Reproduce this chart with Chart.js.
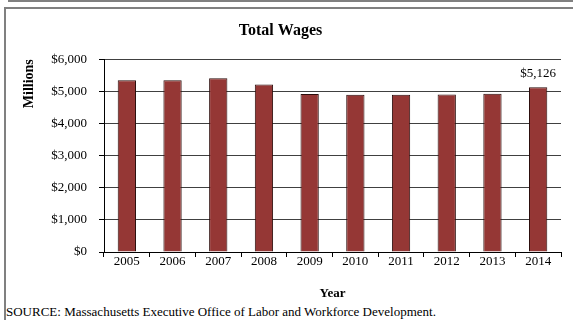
<!DOCTYPE html>
<html>
<head>
<meta charset="utf-8">
<script src="https://cdn.jsdelivr.net/npm/chart.js@4"></script>
<style>
  html, body { margin: 0; padding: 0; background: #fff; }
  body { width: 573px; height: 320px; position: relative; overflow: hidden; font-family: "Liberation Serif", "DejaVu Serif", serif; }
  #topline { position: absolute; left: 8px; top: 0; width: 565px; height: 2px; background: #808080; }
  #frame { position: absolute; left: 4px; top: 7px; width: 569px; height: 313px; border-left: 2px solid #808080; border-top: 2px solid #808080; box-sizing: border-box; }
  #wrap { position: absolute; left: 0; top: 0; width: 573px; height: 304px; }
  #source { position: absolute; left: 6px; top: 304px; font-size: 13px; line-height: 16px; color: #000; white-space: nowrap; }
</style>
</head>
<body>
<div id="topline"></div>
<div id="frame"></div>
<div id="wrap"><canvas id="c"></canvas></div>
<div id="source">SOURCE: Massachusetts Executive Office of Labor and Workforce Development.</div>
<script>
const years = ["2005","2006","2007","2008","2009","2010","2011","2012","2013","2014"];
const totalWages = [5347, 5347, 5410, 5211, 4918, 4896, 4896, 4900, 4927, 5126];
const yTicks = [0, 1000, 2000, 3000, 4000, 5000, 6000];
const labelledIndex = 9;

const fmt = v => '$' + v.toLocaleString('en-US');

const lastLabel = {
  id: 'lastLabel',
  afterDatasetsDraw(chart) {
    const meta = chart.getDatasetMeta(0);
    const bar = meta.data[labelledIndex];
    const ctx = chart.ctx;
    ctx.save();
    ctx.font = '13px "Liberation Serif"';
    ctx.fillStyle = '#000';
    ctx.textAlign = 'center';
    ctx.textBaseline = 'bottom';
    ctx.fillText(fmt(totalWages[labelledIndex]), bar.x, bar.y - 7);
    ctx.restore();
  }
};

new Chart(document.getElementById('c'), {
  type: 'bar',
  data: {
    labels: years,
    datasets: [{
      data: totalWages,
      backgroundColor: '#953735',
      borderColor: '#2b0d0c',
      borderWidth: 1,
      barPercentage: 0.4,
      categoryPercentage: 1.0
    }]
  },
  options: {
    responsive: true,
    maintainAspectRatio: false,
    animation: false,
    layout: { padding: { left: 0, right: 12, top: 0, bottom: 0 } },
    plugins: {
      legend: { display: false },
      tooltip: { enabled: false },
      title: {
        display: true,
        text: 'Total Wages',
        color: '#000',
        font: { family: '"Liberation Serif"', size: 16, weight: 'bold' },
        padding: { top: 21, bottom: 19 }
      }
    },
    scales: {
      x: {
        grid: {
          offset: true,
          drawOnChartArea: true,
          color: (c) => c.index === years.length ? '#808080' : 'rgba(0,0,0,0)',
          tickColor: '#000',
          tickLength: 5
        },
        border: { display: true, color: '#000', width: 1 },
        ticks: {
          color: '#000',
          font: { family: '"Liberation Serif"', size: 13 },
          padding: -3,
          maxRotation: 0
        },
        title: {
          display: true,
          text: 'Year',
          color: '#000',
          font: { family: '"Liberation Serif"', size: 13, weight: 'bold' },
          padding: { top: 12, bottom: 3 }
        },
        afterFit: (s) => { s.height = 52; }
      },
      y: {
        min: 0,
        max: 6000,
        afterBuildTicks: (s) => { s.ticks = yTicks.map(v => ({ value: v })); },
        grid: {
          color: '#404040',
          tickColor: '#000',
          tickLength: 5
        },
        border: { display: true, color: '#000', width: 1 },
        ticks: {
          color: '#000',
          font: { family: '"Liberation Serif"', size: 13 },
          padding: 12,
          callback: (v) => fmt(v)
        },
        title: {
          display: true,
          text: 'Millions',
          align: 'end',
          color: '#000',
          font: { family: '"Liberation Serif"', size: 14, weight: 'bold' },
          padding: { top: 21, bottom: 0 }
        },
        afterFit: (s) => { s.width = 104; }
      }
    }
  },
  plugins: [lastLabel]
});
</script>
</body>
</html>
